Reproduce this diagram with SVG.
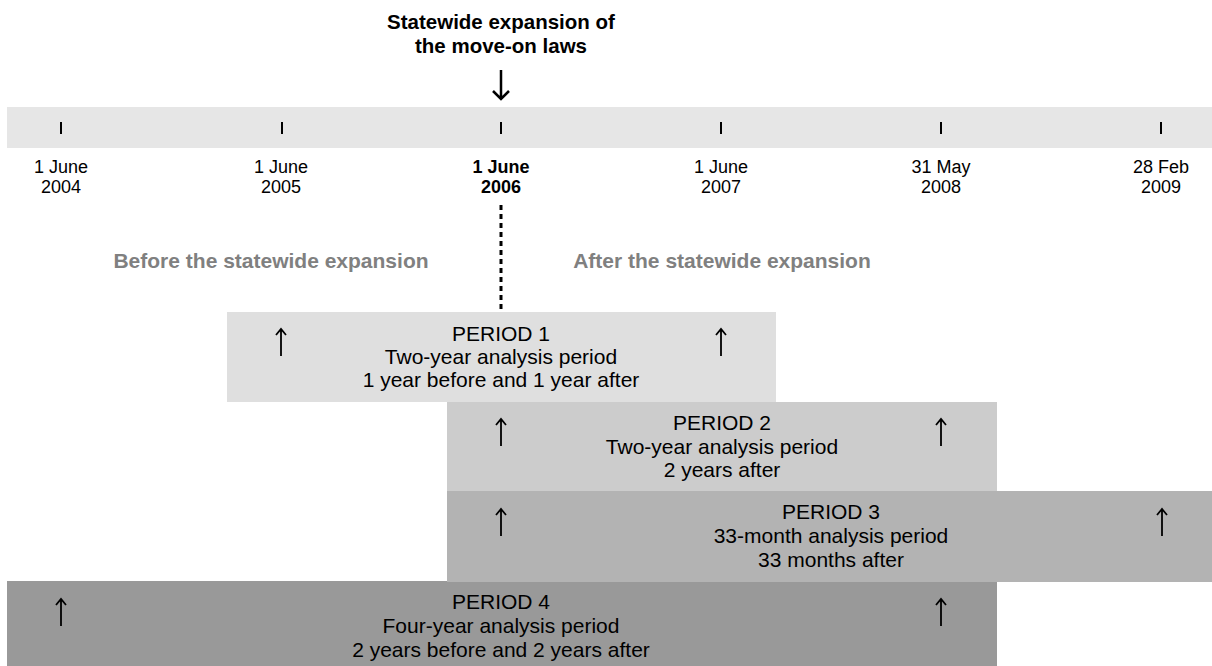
<svg xmlns="http://www.w3.org/2000/svg" width="1212" height="666" viewBox="0 0 1212 666">
  <style>
    text { font-family: "Liberation Sans", Arial, sans-serif; fill: #000; text-anchor: middle; }
    .title { font-size: 20.5px; font-weight: bold; }
    .date { font-size: 18px; }
    .dateb { font-size: 18px; font-weight: bold; }
    .side { font-size: 21px; font-weight: bold; fill: #808080; }
    .ptxt { font-size: 21px; }
    .tick { stroke: #000; stroke-width: 2; }
    .up { stroke: #000; stroke-width: 1.8; fill: none; }
  </style>
  <defs>
    <path id="uparrow" class="up" d="M0,0.5 V28 M-5,7 L0,1 L5,7"/>
  </defs>

  <rect width="1212" height="666" fill="#ffffff"/>

  <g id="title">
    <text class="title" x="501" y="29">Statewide expansion of</text>
    <text class="title" x="501" y="53">the move-on laws</text>
  </g>

  <g id="timeline">
    <rect x="7" y="107" width="1205" height="41" fill="#e6e6e6"/>
    <line class="tick" x1="61" y1="122" x2="61" y2="134"/>
    <line class="tick" x1="282" y1="122" x2="282" y2="134"/>
    <line class="tick" x1="501" y1="122" x2="501" y2="134"/>
    <line class="tick" x1="721" y1="122" x2="721" y2="134"/>
    <line class="tick" x1="941" y1="122" x2="941" y2="134"/>
    <line class="tick" x1="1161" y1="122" x2="1161" y2="134"/>
  </g>

  <g id="dates">
    <text class="date" x="61" y="173">1 June</text>
    <text class="date" x="61" y="193">2004</text>
    <text class="date" x="281" y="173">1 June</text>
    <text class="date" x="281" y="193">2005</text>
    <text class="dateb" x="501" y="173">1 June</text>
    <text class="dateb" x="501" y="193">2006</text>
    <text class="date" x="721" y="173">1 June</text>
    <text class="date" x="721" y="193">2007</text>
    <text class="date" x="941" y="173">31 May</text>
    <text class="date" x="941" y="193">2008</text>
    <text class="date" x="1161" y="173">28 Feb</text>
    <text class="date" x="1161" y="193">2009</text>
  </g>

  <g id="side-labels">
    <text class="side" x="271" y="268">Before the statewide expansion</text>
    <text class="side" x="722" y="268">After the statewide expansion</text>
  </g>

  <g id="period4">
    <rect x="7" y="581" width="990" height="85" fill="#999999"/>
    <use href="#uparrow" x="61" y="598"/>
    <use href="#uparrow" x="941" y="598"/>
    <text class="ptxt" x="501" y="609">PERIOD 4</text>
    <text class="ptxt" x="501" y="633">Four-year analysis period</text>
    <text class="ptxt" x="501" y="657">2 years before and 2 years after</text>
  </g>

  <g id="period3">
    <rect x="447" y="491" width="765" height="91" fill="#b3b3b3"/>
    <use href="#uparrow" x="501" y="508"/>
    <use href="#uparrow" x="1162" y="508"/>
    <text class="ptxt" x="831" y="519">PERIOD 3</text>
    <text class="ptxt" x="831" y="543">33-month analysis period</text>
    <text class="ptxt" x="831" y="567">33 months after</text>
  </g>

  <g id="period2">
    <rect x="447" y="402" width="550" height="89" fill="#cccccc"/>
    <use href="#uparrow" x="501" y="418"/>
    <use href="#uparrow" x="941" y="418"/>
    <text class="ptxt" x="722" y="430">PERIOD 2</text>
    <text class="ptxt" x="722" y="454">Two-year analysis period</text>
    <text class="ptxt" x="722" y="477">2 years after</text>
  </g>

  <g id="period1">
    <rect x="227" y="312" width="549" height="90" fill="#dfdfdf"/>
    <use href="#uparrow" x="281" y="328"/>
    <use href="#uparrow" x="721" y="328"/>
    <text class="ptxt" x="501" y="341">PERIOD 1</text>
    <text class="ptxt" x="501" y="364">Two-year analysis period</text>
    <text class="ptxt" x="501" y="387">1 year before and 1 year after</text>
  </g>

  <g id="connectors">
    <path d="M501,70 V99 M493,91 L501,99 L509,91" stroke="#000" stroke-width="2.5" fill="none"/>
    <line x1="501" y1="205" x2="501" y2="312" stroke="#000" stroke-width="3" stroke-dasharray="5 4"/>
  </g>
</svg>
